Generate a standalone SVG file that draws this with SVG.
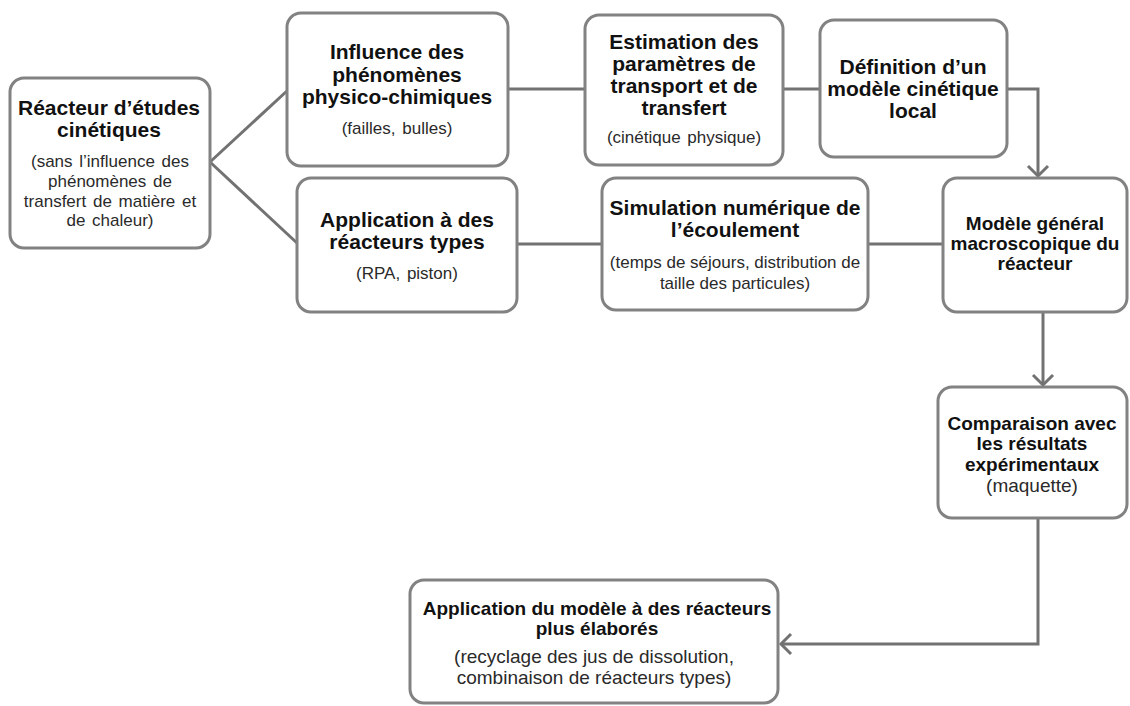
<svg xmlns="http://www.w3.org/2000/svg" width="1130" height="706" viewBox="0 0 1130 706">
<style>
  .box { fill: #ffffff; stroke: #828282; stroke-width: 3; }
  .conn { fill: none; stroke: #727272; stroke-width: 3; }
  .t { font-family: "Liberation Sans", Arial, sans-serif; font-weight: bold; font-size: 21px; fill: #111111; text-anchor: middle; }
  .t19 { font-family: "Liberation Sans", Arial, sans-serif; font-weight: bold; font-size: 19px; fill: #111111; text-anchor: middle; }
  .s { font-family: "Liberation Sans", Arial, sans-serif; font-size: 17px; fill: #2a2a2a; text-anchor: middle; word-spacing: 2px; }
  .s19 { font-family: "Liberation Sans", Arial, sans-serif; font-size: 19px; fill: #2a2a2a; text-anchor: middle; }
</style>
<defs>
  <marker id="arr" markerUnits="userSpaceOnUse" markerWidth="24" markerHeight="24" refX="12" refY="12" orient="auto" viewBox="0 0 24 24">
    <path d="M2,2 L12,12 L2,22" fill="none" stroke="#727272" stroke-width="3" stroke-linejoin="miter"/>
  </marker>
</defs>
<rect width="1130" height="706" fill="#ffffff"/>

<g id="connectors">
  <path class="conn" d="M210,162 L288,90"/>
  <path class="conn" d="M210,162 L297,243"/>
  <path class="conn" d="M508,89 L585,89"/>
  <path class="conn" d="M783,89 L820,89"/>
  <path class="conn" d="M1007,89 L1038,89 L1038,176" marker-end="url(#arr)"/>
  <path class="conn" d="M517,244 L602,244"/>
  <path class="conn" d="M868,244 L943,244"/>
  <path class="conn" d="M1043,312 L1043,385" marker-end="url(#arr)"/>
  <path class="conn" d="M1038,518 L1038,644 L781,644" marker-end="url(#arr)"/>
</g>

<g id="node-reacteur-etudes">
  <rect class="box" x="10" y="78" width="200" height="170" rx="14"/>
  <text class="t" x="109" y="115">Réacteur d’études</text>
  <text class="t" x="109" y="137">cinétiques</text>
  <text class="s" x="110" y="167">(sans l’influence des</text>
  <text class="s" x="110" y="187">phénomènes de</text>
  <text class="s" x="110" y="207">transfert de matière et</text>
  <text class="s" x="110" y="226">de chaleur)</text>
</g>

<g id="node-influence">
  <rect class="box" x="287" y="13" width="221" height="153" rx="14"/>
  <text class="t" x="397" y="59">Influence des</text>
  <text class="t" x="397" y="82">phénomènes</text>
  <text class="t" x="397" y="104">physico-chimiques</text>
  <text class="s" x="397" y="134">(failles, bulles)</text>
</g>

<g id="node-application-types">
  <rect class="box" x="297" y="178" width="220" height="134" rx="14"/>
  <text class="t" x="407" y="227">Application à des</text>
  <text class="t" x="407" y="249">réacteurs types</text>
  <text class="s" x="407" y="279">(RPA, piston)</text>
</g>

<g id="node-estimation">
  <rect class="box" x="585" y="15" width="198" height="150" rx="14"/>
  <text class="t" x="684" y="49">Estimation des</text>
  <text class="t" x="684" y="71">paramètres de</text>
  <text class="t" x="684" y="93">transport et de</text>
  <text class="t" x="684" y="115">transfert</text>
  <text class="s" x="684" y="143">(cinétique physique)</text>
</g>

<g id="node-definition">
  <rect class="box" x="820" y="20" width="187" height="137" rx="14"/>
  <text class="t" x="913" y="74">Définition d’un</text>
  <text class="t" x="913" y="96">modèle cinétique</text>
  <text class="t" x="913" y="118">local</text>
</g>

<g id="node-simulation">
  <rect class="box" x="602" y="178" width="266" height="132" rx="14"/>
  <text class="t" x="735" y="215">Simulation numérique de</text>
  <text class="t" x="735" y="237">l’écoulement</text>
  <text class="s" x="735" y="268" style="word-spacing:0">(temps de séjours, distribution de</text>
  <text class="s" x="735" y="289" style="word-spacing:0">taille des particules)</text>
</g>

<g id="node-modele-general">
  <rect class="box" x="943" y="178" width="184" height="134" rx="14"/>
  <text class="t19" x="1035" y="230">Modèle général</text>
  <text class="t19" x="1035" y="250">macroscopique du</text>
  <text class="t19" x="1035" y="270">réacteur</text>
</g>

<g id="node-comparaison">
  <rect class="box" x="938" y="387" width="189" height="131" rx="14"/>
  <text class="t19" x="1032" y="430">Comparaison avec</text>
  <text class="t19" x="1032" y="450">les résultats</text>
  <text class="t19" x="1032" y="471">expérimentaux</text>
  <text class="s19" x="1032" y="492">(maquette)</text>
</g>

<g id="node-application-elabores">
  <rect class="box" x="410" y="580" width="368" height="123" rx="14"/>
  <text class="t19" x="597" y="615">Application  du modèle à des réacteurs</text>
  <text class="t19" x="597" y="635">plus élaborés</text>
  <text class="s19" x="594" y="663">(recyclage des jus de dissolution,</text>
  <text class="s19" x="594" y="684">combinaison de réacteurs types)</text>
</g>
</svg>
